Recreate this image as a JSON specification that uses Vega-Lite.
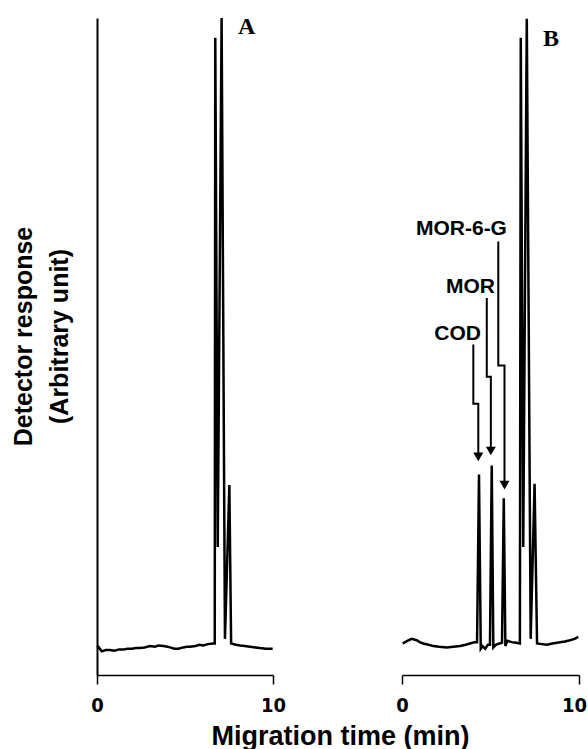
{
  "$schema": "https://vega.github.io/schema/vega-lite/v6.json",
  "background": "white",
  "padding": {"left": 11, "top": 13, "right": 0, "bottom": 0},
  "datasets": {
    "traceA": [
      {"t": 0.02, "v": 4.5}, {"t": 0.27, "v": 3.6}, {"t": 0.5, "v": 3.8}, {"t": 0.74, "v": 3.8},
      {"t": 1.0, "v": 3.7}, {"t": 1.25, "v": 3.9}, {"t": 1.5, "v": 3.9}, {"t": 1.75, "v": 4.0},
      {"t": 2.0, "v": 4.0}, {"t": 2.2, "v": 4.1}, {"t": 2.44, "v": 4.1}, {"t": 2.7, "v": 4.2},
      {"t": 3.01, "v": 4.4}, {"t": 3.3, "v": 4.3}, {"t": 3.5, "v": 4.5}, {"t": 3.77, "v": 4.4},
      {"t": 4.0, "v": 4.3}, {"t": 4.15, "v": 4.2}, {"t": 4.4, "v": 4.0}, {"t": 4.62, "v": 4.0},
      {"t": 4.9, "v": 4.2}, {"t": 5.1, "v": 4.3}, {"t": 5.28, "v": 4.3}, {"t": 5.6, "v": 4.4},
      {"t": 5.8, "v": 4.6}, {"t": 6.04, "v": 4.5}, {"t": 6.3, "v": 4.7}, {"t": 6.61, "v": 4.8},
      {"t": 6.69, "v": 4.8}, {"t": 6.72, "v": 97}, {"t": 6.86, "v": 19.5}, {"t": 7.08, "v": 100},
      {"t": 7.27, "v": 5.5}, {"t": 7.52, "v": 28.9}, {"t": 7.62, "v": 4.8}, {"t": 7.9, "v": 4.6},
      {"t": 8.13, "v": 4.5}, {"t": 8.4, "v": 4.4}, {"t": 8.69, "v": 4.3}, {"t": 9.0, "v": 4.2},
      {"t": 9.26, "v": 4.1}, {"t": 9.6, "v": 4.0}, {"t": 9.98, "v": 4.0}
    ],
    "traceB": [
      {"t": 0.04, "v": 4.8}, {"t": 0.3, "v": 5.2}, {"t": 0.55, "v": 5.5}, {"t": 0.83, "v": 5.3},
      {"t": 1.0, "v": 5.0}, {"t": 1.2, "v": 4.8}, {"t": 1.5, "v": 4.6}, {"t": 1.77, "v": 4.4},
      {"t": 2.1, "v": 4.3}, {"t": 2.53, "v": 4.2}, {"t": 2.9, "v": 4.3}, {"t": 3.28, "v": 4.4},
      {"t": 3.6, "v": 4.6}, {"t": 3.84, "v": 4.8}, {"t": 4.1, "v": 5.0}, {"t": 4.24, "v": 5.0},
      {"t": 4.35, "v": 30.5}, {"t": 4.45, "v": 4.0}, {"t": 4.55, "v": 4.4}, {"t": 4.7, "v": 4.0},
      {"t": 4.85, "v": 4.6}, {"t": 4.97, "v": 4.6}, {"t": 5.07, "v": 31.9}, {"t": 5.16, "v": 4.2},
      {"t": 5.3, "v": 4.6}, {"t": 5.5, "v": 4.8}, {"t": 5.65, "v": 4.9}, {"t": 5.75, "v": 26.9},
      {"t": 5.84, "v": 4.4}, {"t": 5.95, "v": 5.2}, {"t": 6.2, "v": 5.0}, {"t": 6.45, "v": 4.9},
      {"t": 6.66, "v": 4.8}, {"t": 6.71, "v": 97}, {"t": 6.85, "v": 19.5}, {"t": 7.05, "v": 99.9},
      {"t": 7.27, "v": 5.5}, {"t": 7.49, "v": 29.1}, {"t": 7.63, "v": 4.8}, {"t": 7.9, "v": 4.7},
      {"t": 8.18, "v": 4.6}, {"t": 8.5, "v": 4.8}, {"t": 8.93, "v": 5.0}, {"t": 9.2, "v": 5.1},
      {"t": 9.49, "v": 5.3}, {"t": 9.75, "v": 5.5}, {"t": 9.96, "v": 5.8}
    ],
    "arrows": [
      {"label": "COD", "i": 0, "t": 4.03, "v": 50.3},
      {"label": "COD", "i": 1, "t": 4.03, "v": 41.3},
      {"label": "COD", "i": 2, "t": 4.31, "v": 41.3},
      {"label": "COD", "i": 3, "t": 4.31, "v": 33.2},
      {"label": "MOR", "i": 0, "t": 4.79, "v": 57.4},
      {"label": "MOR", "i": 1, "t": 4.79, "v": 45.4},
      {"label": "MOR", "i": 2, "t": 5.02, "v": 45.4},
      {"label": "MOR", "i": 3, "t": 5.02, "v": 34.1},
      {"label": "MOR-6-G", "i": 0, "t": 5.44, "v": 66.0},
      {"label": "MOR-6-G", "i": 1, "t": 5.44, "v": 47.1},
      {"label": "MOR-6-G", "i": 2, "t": 5.79, "v": 47.1},
      {"label": "MOR-6-G", "i": 3, "t": 5.79, "v": 28.9}
    ],
    "heads": [
      {"label": "COD", "t": 4.31, "v": 33.2},
      {"label": "MOR", "t": 5.02, "v": 34.1},
      {"label": "MOR-6-G", "t": 5.79, "v": 28.9}
    ],
    "labels": [
      {"label": "COD", "t": 4.46, "v": 51.0},
      {"label": "MOR", "t": 5.25, "v": 58.2},
      {"label": "MOR-6-G", "t": 5.93, "v": 66.9}
    ]
  },
  "hconcat": [
    {
      "width": 176,
      "height": 657,
      "layer": [
        {
          "data": {"name": "traceA"},
          "mark": {"type": "line", "color": "black", "strokeWidth": 2.5},
          "encoding": {
            "x": {
              "field": "t", "type": "quantitative",
              "scale": {"domain": [0, 10]},
              "axis": {
                "values": [0, 10],
                "title": "Migration time (min)",
                "titleX": 243, "titleY": 69,
                "titleAlign": "center", "titleBaseline": "alphabetic",
                "titleFontSize": 27, "titleFontWeight": "bold", "titleFont": "Liberation Sans", "titleColor": "black"
              }
            },
            "y": {
              "field": "v", "type": "quantitative",
              "scale": {"domain": [0, 100]},
              "axis": {
                "title": ["Detector response", "(Arbitrary unit)"],
                "ticks": false, "labels": false,
                "domain": true, "domainColor": "black", "domainWidth": 2,
                "titleX": -66, "titleY": 318, "titleAngle": -90,
                "titleAlign": "center", "titleBaseline": "alphabetic",
                "titleLineHeight": 36,
                "titleFontSize": 25, "titleFontWeight": "bold", "titleFont": "Liberation Sans", "titleColor": "black"
              }
            }
          }
        },
        {
          "data": {"values": [{"t": 8.01, "v": 97.6, "label": "A"}]},
          "mark": {"type": "text", "font": "Liberation Serif", "fontWeight": "bold", "fontSize": 24, "align": "left", "baseline": "alphabetic", "color": "black"},
          "encoding": {
            "x": {"field": "t", "type": "quantitative"},
            "y": {"field": "v", "type": "quantitative"},
            "text": {"field": "label"}
          }
        }
      ]
    },
    {
      "width": 177,
      "height": 657,
      "layer": [
        {
          "data": {"name": "traceB"},
          "mark": {"type": "line", "color": "black", "strokeWidth": 2.5},
          "encoding": {
            "x": {
              "field": "t", "type": "quantitative",
              "scale": {"domain": [0, 10]},
              "axis": {
                "values": [0, 10], "title": null,
                "labelOffset": {"condition": {"test": "datum.value == 10", "value": -5}, "value": 0}
              }
            },
            "y": {
              "field": "v", "type": "quantitative",
              "scale": {"domain": [0, 100]},
              "axis": null
            }
          }
        },
        {
          "data": {"name": "arrows"},
          "mark": {"type": "line", "color": "black", "strokeWidth": 2},
          "encoding": {
            "x": {"field": "t", "type": "quantitative"},
            "y": {"field": "v", "type": "quantitative"},
            "detail": {"field": "label"},
            "order": {"field": "i"}
          }
        },
        {
          "data": {"name": "heads"},
          "mark": {"type": "point", "shape": "triangle-down", "filled": true, "color": "black", "size": 100, "opacity": 1},
          "encoding": {
            "x": {"field": "t", "type": "quantitative"},
            "y": {"field": "v", "type": "quantitative"}
          }
        },
        {
          "data": {"name": "labels"},
          "mark": {"type": "text", "font": "Liberation Sans", "fontWeight": "bold", "fontSize": 21, "align": "right", "baseline": "alphabetic", "color": "black"},
          "encoding": {
            "x": {"field": "t", "type": "quantitative"},
            "y": {"field": "v", "type": "quantitative"},
            "text": {"field": "label"}
          }
        },
        {
          "data": {"values": [{"t": 7.97, "v": 95.7, "label": "B"}]},
          "mark": {"type": "text", "font": "Liberation Serif", "fontWeight": "bold", "fontSize": 24, "align": "left", "baseline": "alphabetic", "color": "black"},
          "encoding": {
            "x": {"field": "t", "type": "quantitative"},
            "y": {"field": "v", "type": "quantitative"},
            "text": {"field": "label"}
          }
        }
      ]
    }
  ],
  "spacing": 129,
  "bounds": "flush",
  "config": {
    "view": {"stroke": null},
    "axis": {
      "grid": false,
      "domainColor": "black",
      "domainWidth": 1.5,
      "tickColor": "black",
      "tickWidth": 1.5,
      "tickSize": 9,
      "labelFont": "'Liberation Sans Narrow', 'DejaVu Sans Condensed', 'Liberation Sans', sans-serif",
      "labelFontWeight": "bold",
      "labelFontSize": 20,
      "labelColor": "black",
      "labelPadding": 11,
      "labelFlush": false
    }
  }
}
